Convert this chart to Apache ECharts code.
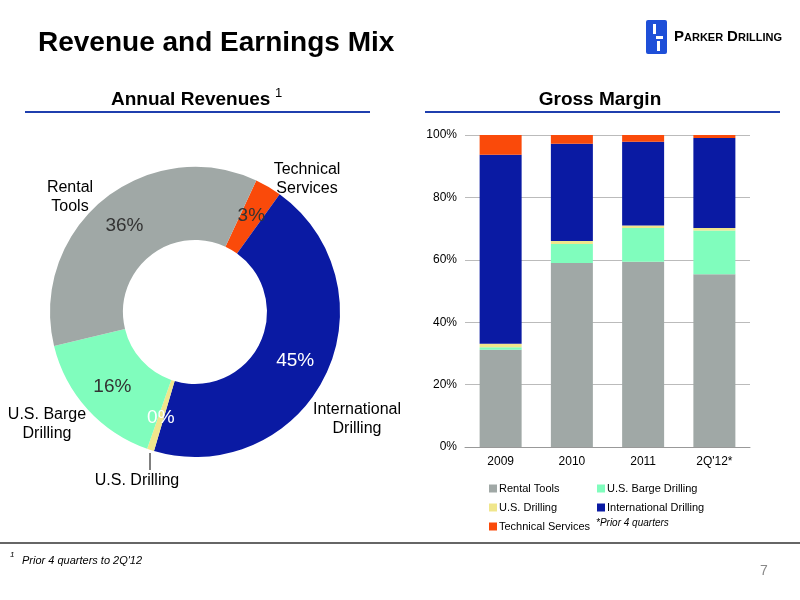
<!DOCTYPE html>
<html>
<head>
<meta charset="UTF-8">
<script src="https://cdn.jsdelivr.net/npm/echarts@6/dist/echarts.min.js"></script>
<style>body{margin:0;background:#fff}#main{width:800px;height:600px}</style>
</head>
<body>
<div id="main"></div>
<script>
// pie data (clockwise from top right)
var pieNames = ['Technical Services', 'International Drilling', 'U.S. Drilling', 'U.S. Barge Drilling', 'Rental Tools'];
var pieValues = [3, 45, 0.8, 16, 36];
var pieLabels = ['3%', '45%', '0%', '16%', '36%'];
var pieColors = ['#fa4a0a', '#0a1aa3', '#f0e68c', '#80fdbd', '#a0a8a6'];

// stacked bars
var years = ['2009', '2010', '2011', "2Q'12*"];
var rentalTools = [31.2, 59.0, 59.4, 55.4];
var bargeDrilling = [0.8, 6.1, 10.8, 14.0];
var usDrilling = [1.1, 0.9, 0.8, 0.8];
var intlDrilling = [60.6, 31.2, 26.8, 28.8];
var techServices = [6.3, 2.8, 2.2, 1.0];

var chart = echarts.init(document.getElementById('main'));
var font = 'Liberation Sans';

function barSeries(name, data, color) {
    return {
        name: name, type: 'bar', stack: 'gm', data: data,
        barWidth: 42, itemStyle: {color: color}
    };
}

var legendText = {fontSize: 11, color: '#000', padding: [0, 0, 0, -3]};

var option = {
    animation: false,
    textStyle: {fontFamily: font},
    title: [
        {text: 'Revenue and Earnings Mix', left: 33, top: 24,
         textStyle: {fontSize: 28, fontWeight: 'bold', color: '#000', fontFamily: font}},
        {text: 'Annual Revenues', left: 106, top: 85,
         textStyle: {fontSize: 19, fontWeight: 'bold', color: '#000', fontFamily: font}},
        {text: 'Gross Margin', left: 595, top: 85, textAlign: 'center',
         textStyle: {fontSize: 19, fontWeight: 'bold', color: '#000', fontFamily: font}}
    ],
    grid: {left: 465, right: 50, top: 135, bottom: 153},
    xAxis: {
        type: 'category', data: years,
        axisTick: {show: false},
        axisLine: {lineStyle: {color: '#999'}},
        axisLabel: {color: '#000', fontSize: 12, margin: 9}
    },
    yAxis: {
        type: 'value', min: 0, max: 100, interval: 20,
        axisLabel: {formatter: '{value}%', color: '#000', fontSize: 12},
        splitLine: {lineStyle: {color: '#bbb'}}
    },
    legend: [
        {orient: 'vertical', left: 484, top: 478, itemWidth: 8, itemHeight: 8, itemGap: 8,
         icon: 'rect', textStyle: legendText,
         data: ['Rental Tools', 'U.S. Drilling', 'Technical Services']},
        {orient: 'vertical', left: 592, top: 478, itemWidth: 8, itemHeight: 8, itemGap: 8,
         icon: 'rect', textStyle: legendText,
         data: ['U.S. Barge Drilling', 'International Drilling']}
    ],
    series: [
        barSeries('Rental Tools', rentalTools, '#a0a8a6'),
        barSeries('U.S. Barge Drilling', bargeDrilling, '#80fdbd'),
        barSeries('U.S. Drilling', usDrilling, '#f0e68c'),
        barSeries('International Drilling', intlDrilling, '#0a1aa3'),
        barSeries('Technical Services', techServices, '#fa4a0a'),
        {
            type: 'pie', center: [195, 312], radius: [72, 145],
            startAngle: 65, clockwise: true, legendHoverLink: false,
            data: pieNames.map(function (n, i) {
                var dark = (i === 1 || i === 2);
                return {name: 'pie ' + n, value: pieValues[i],
                    itemStyle: {color: pieColors[i]},
                    label: {formatter: pieLabels[i], color: dark ? '#fff' : '#333'}};
            }),
            label: {position: 'inside', fontSize: 19},
            labelLine: {show: false}
        }
    ],
    graphic: [
        {type: 'text', left: 275, top: 87, style: {text: '1', fontSize: 13, fill: '#000', fontFamily: font}},
        {type: 'line', shape: {x1: 25, y1: 112, x2: 370, y2: 112}, style: {stroke: '#1f3fae', lineWidth: 2}},
        {type: 'line', shape: {x1: 425, y1: 112, x2: 780, y2: 112}, style: {stroke: '#1f3fae', lineWidth: 2}},
        {type: 'text', x: 70, y: 178, style: {text: 'Rental\nTools', fontSize: 16, fill: '#000', textAlign: 'center', fontFamily: font, lineHeight: 19}},
        {type: 'text', x: 307, y: 160, style: {text: 'Technical\nServices', fontSize: 16, fill: '#000', textAlign: 'center', fontFamily: font, lineHeight: 19}},
        {type: 'text', x: 357, y: 400, style: {text: 'International\nDrilling', fontSize: 16, fill: '#000', textAlign: 'center', fontFamily: font, lineHeight: 19}},
        {type: 'text', x: 47, y: 405, style: {text: 'U.S. Barge\nDrilling', fontSize: 16, fill: '#000', textAlign: 'center', fontFamily: font, lineHeight: 19}},
        {type: 'text', x: 137, y: 473, style: {text: 'U.S. Drilling', fontSize: 16, fill: '#000', textAlign: 'center', fontFamily: font}},
        {type: 'line', shape: {x1: 150, y1: 453, x2: 150, y2: 470}, style: {stroke: '#000', lineWidth: 1}},
        {type: 'text', x: 596, y: 518, style: {text: '*Prior 4 quarters', fontSize: 10, fontStyle: 'italic', fill: '#000', fontFamily: font}},
        {type: 'line', shape: {x1: 0, y1: 543, x2: 800, y2: 543}, style: {stroke: '#333', lineWidth: 1.5}},
        {type: 'text', x: 10, y: 551, style: {text: '1', fontSize: 8, fontStyle: 'italic', fill: '#000', fontFamily: font}},
        {type: 'text', x: 22, y: 555, style: {text: 'Prior 4 quarters to 2Q\'12', fontSize: 11, fontStyle: 'italic', fill: '#000', fontFamily: font}},
        {type: 'text', x: 760, y: 564, style: {text: '7', fontSize: 14, fill: '#888', fontFamily: font}},
        {type: 'rect', shape: {x: 646, y: 20, width: 21, height: 34, r: 2}, style: {fill: '#1e4fd8'}},
        {type: 'rect', shape: {x: 653, y: 24, width: 3, height: 10}, style: {fill: '#fff'}},
        {type: 'rect', shape: {x: 656, y: 36, width: 7, height: 3}, style: {fill: '#fff'}},
        {type: 'rect', shape: {x: 657, y: 41, width: 3, height: 10}, style: {fill: '#fff'}},
        {type: 'text', x: 674, y: 29, style: {text: 'P', fontSize: 15, fontWeight: 'bold', fill: '#000', fontFamily: font}},
        {type: 'text', x: 684, y: 32, style: {text: 'ARKER', fontSize: 11, fontWeight: 'bold', fill: '#000', fontFamily: font}},
        {type: 'text', x: 727, y: 29, style: {text: 'D', fontSize: 15, fontWeight: 'bold', fill: '#000', fontFamily: font}},
        {type: 'text', x: 738, y: 32, style: {text: 'RILLING', fontSize: 11, fontWeight: 'bold', fill: '#000', fontFamily: font}}
    ]
};
chart.setOption(option);
</script>
</body>
</html>
